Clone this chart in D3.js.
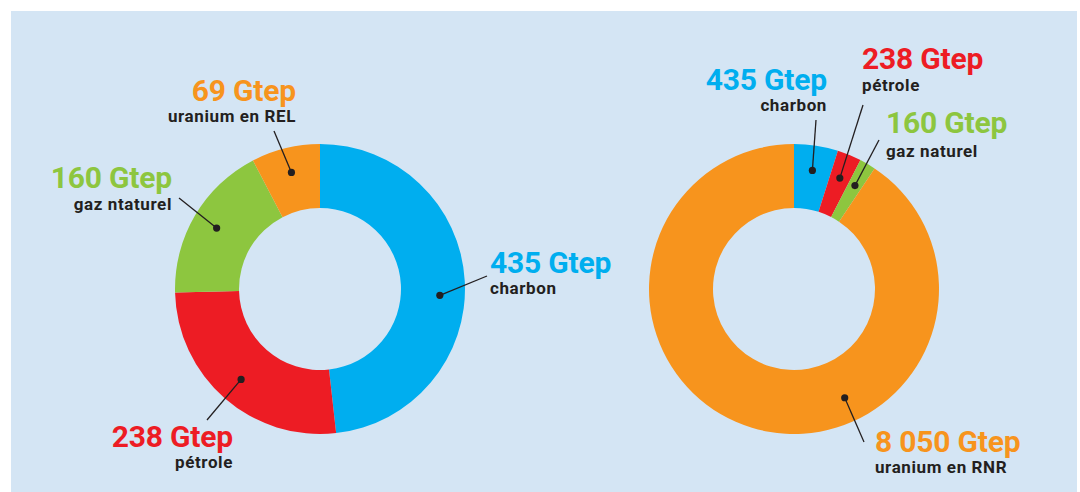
<!DOCTYPE html>
<html>
<head>
<meta charset="utf-8">
<script src="https://cdn.jsdelivr.net/npm/d3@7"></script>
<style>
  html, body { margin: 0; padding: 0; background: #fff; }
  svg { display: block; }
  text { font-family: Roboto, "DejaVu Sans", sans-serif; font-weight: 700; }
</style>
</head>
<body>
<script>
// reserves in Gtep
var sourcesLeft = ["charbon", "pétrole", "gaz ntaturel", "uranium en REL"],
    valuesLeft = [435, 238, 160, 69];
var sourcesRight = ["charbon", "pétrole", "gaz naturel", "uranium en RNR"],
    valuesRight = [435, 238, 160, 8050];
var colors = ["#00aeef", "#ed1c24", "#8dc63f", "#f7941d"];

var width = 1080,
    height = 492,
    outer = 145,
    inner = 81,
    dotR = 120;

// label placement, one entry per slice (x, baselines, anchor, leader end, optional dot angle)
var layoutLeft = [
  { x: 490, y: 273, y2: 294, anchor: "start", lx: 487, ly: 276, angle: 93 },
  { x: 233, y: 447, y2: 468, anchor: "end", lx: 207, ly: 420 },
  { x: 172, y: 188, y2: 210, anchor: "end", lx: 179, ly: 198 },
  { x: 296, y: 101, y2: 122, anchor: "end", lx: 274, ly: 131 }
];
var layoutRight = [
  { x: 827, y: 90, y2: 111, anchor: "end", lx: 816, ly: 120 },
  { x: 862, y: 69, y2: 91, anchor: "start", lx: 863, ly: 105 },
  { x: 886, y: 133, y2: 157, anchor: "start", lx: 879, ly: 140 },
  { x: 875, y: 452, y2: 473, anchor: "start", lx: 864, ly: 442, angle: 155 }
];

var fmt = d3.formatLocale({ decimal: ",", thousands: " ", grouping: [3], currency: ["", ""] }).format(",d");

var svg = d3.select("body").append("svg")
    .attr("width", width)
    .attr("height", height);

svg.append("rect")
    .attr("x", 11).attr("y", 11)
    .attr("width", 1066).attr("height", 481)
    .attr("fill", "#d4e5f4");

var pie = d3.pie().sort(null).value(function(d) { return d; });
var arc = d3.arc().innerRadius(inner).outerRadius(outer);

function donut(cx, cy, names, values, layout) {
  var g = svg.append("g").attr("transform", "translate(" + cx + "," + cy + ")");
  var slices = pie(values);

  g.selectAll("path")
    .data(slices)
    .enter().append("path")
      .attr("d", arc)
      .attr("fill", function(d, i) { return colors[i]; });

  slices.forEach(function(d, i) {
    var l = layout[i];
    var a = l.angle != null ? l.angle * Math.PI / 180 : (d.startAngle + d.endAngle) / 2;
    var px = cx + dotR * Math.sin(a),
        py = cy - dotR * Math.cos(a);

    svg.append("line")
      .attr("x1", px).attr("y1", py)
      .attr("x2", l.lx).attr("y2", l.ly)
      .attr("stroke", "#231f20")
      .attr("stroke-width", 1.3);

    svg.append("circle")
      .attr("cx", px).attr("cy", py)
      .attr("r", 3.6)
      .attr("fill", "#231f20");

    svg.append("text")
      .attr("x", l.x).attr("y", l.y)
      .attr("text-anchor", l.anchor)
      .attr("font-size", 30)
      .attr("letter-spacing", -0.2)
      .attr("fill", colors[i])
      .text(fmt(values[i]) + " Gtep");

    svg.append("text")
      .attr("x", l.x).attr("y", l.y2)
      .attr("text-anchor", l.anchor)
      .attr("font-size", 17)
      .attr("letter-spacing", 0.6)
      .attr("fill", "#231f20")
      .text(names[i]);
  });
}

donut(320, 289, sourcesLeft, valuesLeft, layoutLeft);
donut(794, 289, sourcesRight, valuesRight, layoutRight);
</script>
</body>
</html>
